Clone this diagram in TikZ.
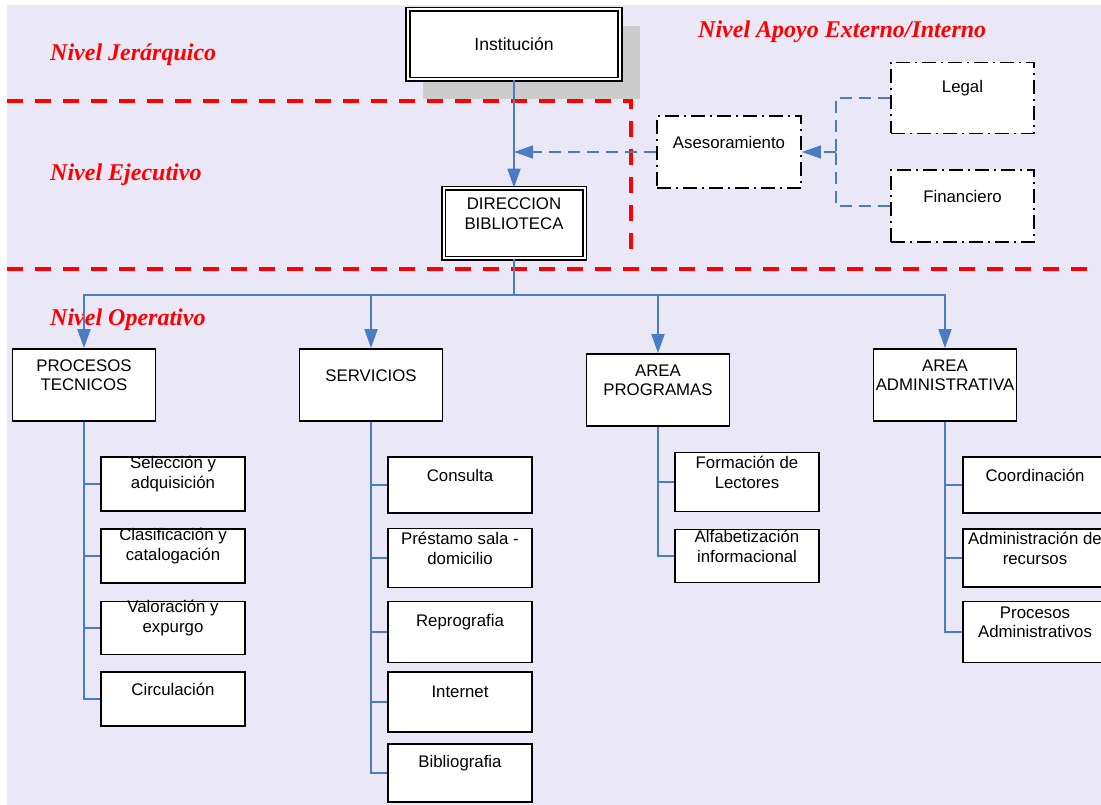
\documentclass[tikz,border=0pt]{standalone}
\usepackage{fontspec}
\setmainfont{Liberation Sans}
\newfontfamily\nivelfont{Liberation Serif}
\usetikzlibrary{arrows.meta}
\definecolor{bgl}{RGB}{234,232,246}
\definecolor{lnk}{RGB}{74,124,196}
\definecolor{shd}{RGB}{204,204,204}
\tikzset{
  txt/.style={font=\fontsize{16.8}{19.5}\selectfont, align=center, inner sep=0pt},
  box/.style={draw=black, line width=1.8pt, fill=white, inner sep=0pt,
              minimum width=144pt, minimum height=#1},
  box/.default=54pt,
  dbox/.style={box=#1, line width=1.6pt, double=white, double distance=2pt},
  ddbox/.style={box=#1, dash pattern=on 14pt off 5pt on 2pt off 5pt},
  conn/.style={draw=lnk, line width=1.8pt},
  dconn/.style={draw=lnk, line width=1.4pt, dash pattern=on 12pt off 7pt},
  tip/.style={-{Triangle[length=19pt,width=13pt]}},
  nivel/.style={font=\nivelfont\bfseries\itshape\fontsize{24}{28}\selectfont,
                text=red, inner sep=0pt, anchor=base west},
  limite/.style={draw=red, line width=4.5pt, dash pattern=on 16pt off 12pt},
}
\begin{document}
\begin{tikzpicture}[x=1pt, y=-1pt]
  % page and background
  \useasboundingbox (0,0) rectangle (1101,805);
  \fill[white] (0,0) rectangle (1101,805);
  \fill[bgl] (7,5) rectangle (1101,805);

  % level separators
  \draw[limite] (7,101) -- (631,101) -- (631,258);
  \draw[limite] (7,269) -- (1090,269);

  % level titles
  \node[nivel] (nj) at (50,61) {Nivel Jerárquico};
  \node[nivel] (ne) at (50,181) {Nivel Ejecutivo};
  \node[nivel] (no) at (50,325) {Nivel Operativo};
  \node[nivel] (na) at (698,38) {Nivel Apoyo Externo/Interno};

  % top of the hierarchy
  \fill[shd] (423,26) rectangle (640,99);
  \node[dbox=70pt, minimum width=212pt,
        label={[txt,font=\fontsize{17.6}{20}\selectfont]center:Institución}] (inst) at (514,44.5) {};
  \node[dbox=70pt, minimum width=141pt,
        label={[txt,yshift=10pt]center:{DIRECCION\\BIBLIOTECA}}] (dir) at (514,223.5) {};

  % support units
  \node[ddbox=72pt, label={[txt,yshift=9.75pt]center:Asesoramiento}] (ases) at (729,152) {};
  \node[ddbox=71pt, minimum width=143pt, label={[txt,yshift=9.75pt]center:Legal}] (legal) at (962.5,98) {};
  \node[ddbox=72pt, minimum width=143pt, label={[txt,yshift=9.75pt]center:Financiero}] (fin) at (962.5,206) {};

  % operative areas
  \node[box=72pt, minimum width=143pt, label={[txt,yshift=9.75pt]center:{PROCESOS\\TECNICOS}}] (pt) at (84,385) {};
  \node[box=72pt, minimum width=143pt, label={[txt,yshift=9.75pt]center:SERVICIOS}] (sv) at (371,385) {};
  \node[box=72pt, minimum width=143pt, label={[txt,yshift=9.75pt]center:{AREA\\PROGRAMAS}}] (ap) at (658,390) {};
  \node[box=72pt, minimum width=143pt, label={[txt,yshift=9.75pt]center:{AREA\\ADMINISTRATIVA}}] (aa) at (945,385) {};

  % procesos tecnicos
  \node[box=54pt, label={[txt,yshift=9.75pt]center:{Selección y\\adquisición}}] (sel) at (173,484) {};
  \node[box=54pt, label={[txt,yshift=9.75pt]center:{Clasificación y\\catalogación}}] (cla) at (173,556) {};
  \node[box=53pt, label={[txt,yshift=9.75pt]center:{Valoración y\\expurgo}}] (val) at (173,628) {};
  \node[box=54pt, label={[txt,yshift=9.75pt]center:Circulación}] (cir) at (173,699) {};

  % servicios
  \node[box=56pt, label={[txt,yshift=9.75pt]center:Consulta}] (con) at (460,485) {};
  \node[box=59pt, label={[txt,yshift=9.75pt]center:{Préstamo sala -\\domicilio}}] (pre) at (460,558) {};
  \node[box=61pt, label={[txt,yshift=9.75pt]center:Reprografia}] (rep) at (460,632) {};
  \node[box=60pt, label={[txt,yshift=9.75pt]center:Internet}] (int) at (460,702) {};
  \node[box=58pt, label={[txt,yshift=9.75pt]center:Bibliografia}] (bib) at (460,773) {};

  % area programas
  \node[box=59pt, label={[txt,yshift=9.75pt]center:{Formación de\\Lectores}}] (for) at (747,482) {};
  \node[box=53pt, label={[txt,yshift=9.75pt]center:{Alfabetización\\informacional}}] (alf) at (747,556) {};

  % area administrativa
  \node[box=56pt, label={[txt,yshift=9.75pt]center:Coordinación}] (coo) at (1035,485) {};
  \node[box=58pt, label={[txt,yshift=9.75pt]center:{Administración de\\recursos}}] (adm) at (1035,558) {};
  \node[box=61pt, label={[txt,yshift=9.75pt]center:{Procesos\\Administrativos}}] (pro) at (1035,632) {};

  % hierarchy links
  \draw[conn, tip] (inst.south) -- (dir.north);
  \draw[dconn, tip] (ases.west) -- (ases.west -| inst.south);
  \coordinate (jn) at (836,152);
  \draw[dconn] (legal.west) -| (jn);
  \draw[dconn] (fin.west) -| (jn);
  \draw[dconn, tip] (jn) -- (ases.east);

  % bus to operative areas
  \coordinate (bus) at (514,295);
  \draw[conn] (dir.south) -- (bus);
  \draw[conn, tip] (bus) -| (pt.north);
  \draw[conn, tip] (bus) -| (sv.north);
  \draw[conn, tip] (bus) -| (ap.north);
  \draw[conn, tip] (bus) -| (aa.north);

  % branches
  \foreach \p/\c in {pt/sel, pt/cla, pt/val, pt/cir,
                     sv/con, sv/pre, sv/rep, sv/int, sv/bib,
                     ap/for, ap/alf,
                     aa/coo, aa/adm, aa/pro}
    \draw[conn] (\p.south) |- (\c.west);
\end{tikzpicture}
\end{document}
